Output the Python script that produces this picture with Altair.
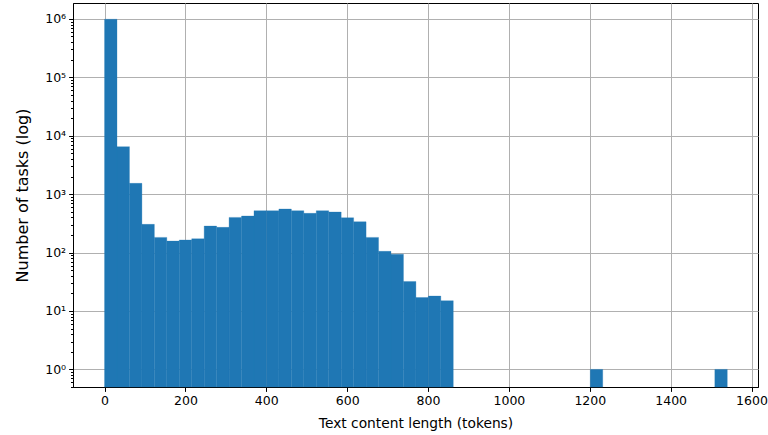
import altair as alt
import pandas as pd

# Histogram of text content length (tokens), 50 bins from 0 to 1540
bin_width = 30.8
counts = [985000, 6500, 1530, 304, 182, 157, 164, 172, 284, 270,
          400, 422, 520, 520, 556, 520, 469, 520, 494, 394,
          337, 182, 105, 94, 32, 17, 18, 15, 0, 0,
          0, 0, 0, 0, 0, 0, 0, 0, 0, 1,
          0, 0, 0, 0, 0, 0, 0, 0, 0, 1]
x_ticks = [0, 200, 400, 600, 800, 1000, 1200, 1400, 1600]
y_major = [1, 10, 100, 1000, 10000, 100000, 1000000]

lo = [i * bin_width for i in range(len(counts))]
df = pd.DataFrame({"lo": lo, "hi": [v + bin_width for v in lo], "count": counts})
df = df[df["count"] > 0]

y_vals = []
for k in range(-1, 7):
    for m in range(1, 10):
        v = m * 10 ** k
        if 0.5 <= v <= 1.87e6:
            y_vals.append(v)

W, H = 685, 384
is_major = "abs(log(datum.value)/LN10 - round(log(datum.value)/LN10)) < 0.001"
sup = "['⁰','¹','²','³','⁴','⁵','⁶','⁷']"

bars = alt.Chart(df).mark_rect(color="#1f77b4", stroke="#1f77b4", strokeWidth=0.3).encode(
    x=alt.X("lo:Q",
            scale=alt.Scale(domain=[-78, 1616], nice=False, zero=False),
            axis=alt.Axis(values=x_ticks, title="Text content length (tokens)",
                          format="d", titleFontSize=13.8, titleY=36, titleBaseline="middle",
                          labelFontSize=12.5, tickSize=4.4, labelPadding=3)),
    x2="hi:Q",
    y=alt.Y("count:Q",
            scale=alt.Scale(type="log", domain=[0.5, 1.87e6], nice=False),
            axis=alt.Axis(values=y_vals, title="Number of tasks (log)",
                          labelExpr=f"({is_major}) ? '10' + {sup}[round(log(datum.value)/LN10)] : ''",
                          tickSize={"condition": {"test": is_major, "value": 4.4}, "value": 2.5},
                          gridOpacity={"condition": {"test": is_major, "value": 1}, "value": 0},
                          labelOverlap=False, labelFlush=False,
                          labelFontSize=12.5, labelPadding=3,
                          titleFontSize=16, titleX=-51, titleY=H / 2,
                          titleAngle=-90, titleBaseline="middle", titleAlign="center")),
    y2=alt.value(H),
)

chart = bars.properties(
    width=W, height=H,
    padding={"left": 73, "top": 3, "right": 10, "bottom": 48},
    autosize=alt.AutoSizeParams(type="none"),
    background="white",
).configure_view(
    stroke="black", strokeWidth=1
).configure_axis(
    grid=True, gridColor="#b0b0b0", gridWidth=1,
    domainColor="black", domainWidth=1,
    tickColor="black", tickWidth=1,
    labelFont="DejaVu Sans", titleFont="DejaVu Sans",
    labelColor="black", titleColor="black", titleFontWeight="normal",
    zindex=1,
)

chart.save("out.html", embed_options={"renderer": "svg", "actions": False})
